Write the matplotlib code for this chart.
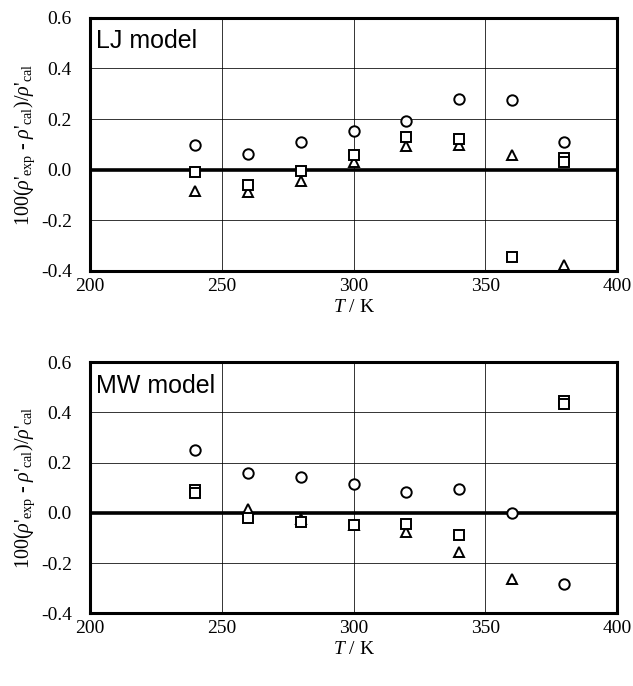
import numpy as np
import matplotlib

matplotlib.use("Agg")
import matplotlib.pyplot as plt  # noqa: E402

T = [240, 260, 280, 300, 320, 340, 360, 380]
nan = np.nan

# LJ model
lj_circle = [0.099, 0.062, 0.108, 0.151, 0.193, 0.281, 0.275, 0.109]
lj_square = [-0.009, -0.059, -0.005, 0.060, 0.129, 0.122, -0.345, 0.046]
lj_square2 = [nan, nan, nan, nan, nan, nan, nan, 0.029]
lj_triangle = [-0.085, -0.089, -0.046, 0.029, 0.092, 0.096, 0.057, -0.375]

# MW model
mw_circle = [0.252, 0.159, 0.143, 0.114, 0.083, 0.096, 0.0, -0.283]
mw_square = [0.091, -0.022, -0.035, -0.049, -0.045, -0.088, nan, 0.447]
mw_square2 = [0.079, nan, nan, nan, nan, nan, nan, 0.435]
mw_triangle = [nan, 0.017, -0.025, -0.050, -0.075, -0.154, -0.265, nan]

plt.rcParams["font.family"] = "Liberation Serif"
plt.rcParams["mathtext.fontset"] = "custom"
plt.rcParams["mathtext.rm"] = "Liberation Serif"
plt.rcParams["mathtext.it"] = "Liberation Serif:italic"
plt.rcParams["mathtext.bf"] = "Liberation Serif:bold"

YLABEL = (r"100($\rho$'$_{\rm exp}$ - $\rho$'$_{\rm cal}$)/$\rho$'$_{\rm cal}$")


def panel(ax, title, circ, sq, sq2, tri):
    ax.set_xlim(200, 400)
    ax.set_ylim(-0.4, 0.6)
    ax.set_xticks([200, 250, 300, 350, 400])
    ax.set_yticks([-0.4, -0.2, 0.0, 0.2, 0.4, 0.6])
    ax.set_yticklabels(["-0.4", "-0.2", "0.0", "0.2", "0.4", "0.6"])
    ax.grid(True, color="black", lw=0.7, alpha=0.8)
    ax.set_axisbelow(True)
    ax.axhline(0, color="black", lw=2.6, zorder=2)
    ax.tick_params(length=0, labelsize=14)
    ax.tick_params(axis="y", pad=13)
    ax.tick_params(axis="x", pad=5)
    for s in ax.spines.values():
        s.set_linewidth(2.2)
    mk = dict(ls="none", mfc="white", mec="black", mew=1.4, ms=7.5, zorder=3)
    ax.plot(T, circ, marker="o", **mk)
    ax.plot(T, tri, marker="^", **mk)
    ax.plot(T, sq, marker="s", **mk)
    ax.plot(T, sq2, marker="s", **mk)
    ax.text(0.012, 0.955, title, transform=ax.transAxes, ha="left", va="top",
            fontsize=18, family="Liberation Sans",
            bbox=dict(fc="white", ec="none", pad=1))
    ax.set_ylabel(YLABEL, fontsize=14.5, labelpad=3)
    ax.set_xlabel(r"$T$ / K", fontsize=14, labelpad=3)


fig = plt.figure(figsize=(6.33, 6.86), dpi=100)
ax1 = fig.add_axes([0.142, 0.605, 0.833, 0.369])
ax2 = fig.add_axes([0.142, 0.106, 0.833, 0.366])
panel(ax1, "LJ model", lj_circle, lj_square, lj_square2, lj_triangle)
panel(ax2, "MW model", mw_circle, mw_square, mw_square2, mw_triangle)
fig.savefig("out.png", dpi=100)
